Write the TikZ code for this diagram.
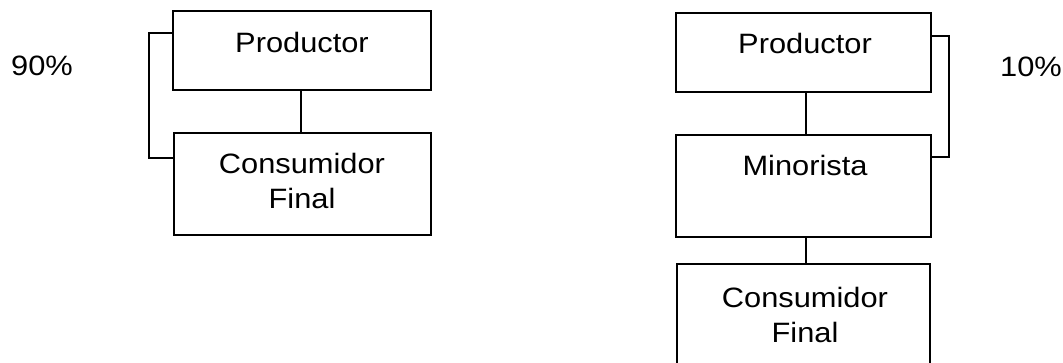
\documentclass[tikz,border=0pt]{standalone}
\usepackage{fontspec}
\setmainfont{Liberation Sans}[FakeStretch=1.1]
\begin{document}
\begin{tikzpicture}[x=1pt,y=-1pt,
  box/.style={draw=black,line width=1.4pt,inner sep=0pt},
  lbl/.style={font=\fontsize{28}{35}\selectfont,align=center,anchor=base,inner sep=0pt},
  link/.style={draw=black,line width=1.4pt}]
\useasboundingbox[fill=white] (0,0) rectangle (1063,362);
\begin{scope}
\clip (0,0) rectangle (1063,362);
% left column
\node[box,minimum width=258pt,minimum height=79pt] (p1) at (302,50.5) {};
\node[box,minimum width=257pt,minimum height=102pt] (c1) at (302.5,184) {};
% right column
\node[box,minimum width=255pt,minimum height=79pt] (p2) at (803.5,52.5) {};
\node[box,minimum width=255pt,minimum height=102pt] (m2) at (803.5,186) {};
\node[box,minimum width=253pt,minimum height=110pt] (c2) at (803.5,319) {};
\end{scope}
% texts
\node[lbl] (t90) at (42,75) {90\%};
\node[lbl] (t10) at (1031,76) {10\%};
\node[lbl] (tp1) at (302,52) {Productor};
\node[lbl] (tc1) at (302,208) {Consumidor\\Final};
\node[lbl] (tp2) at (805,53) {Productor};
\node[lbl] (tm2) at (805,175) {Minorista};
\node[lbl] (tc2) at (805,342) {Consumidor\\Final};
% connectors
\draw[link] (p1.south -| 301,0) -- (c1.north -| 301,0);
\draw[link] (p2.south -| 806,0) -- (m2.north -| 806,0);
\draw[link] (m2.south -| 806,0) -- (c2.north -| 806,0);
\coordinate (b1a) at (p1.west |- 0,33);
\coordinate (b1b) at (c1.west |- 0,158);
\draw[link] (b1a) -| (149,95) |- (b1b);
\coordinate (b2a) at (p2.east |- 0,36);
\coordinate (b2b) at (m2.east |- 0,157);
\draw[link] (b2a) -| (949,95) |- (b2b);
\end{tikzpicture}
\end{document}
